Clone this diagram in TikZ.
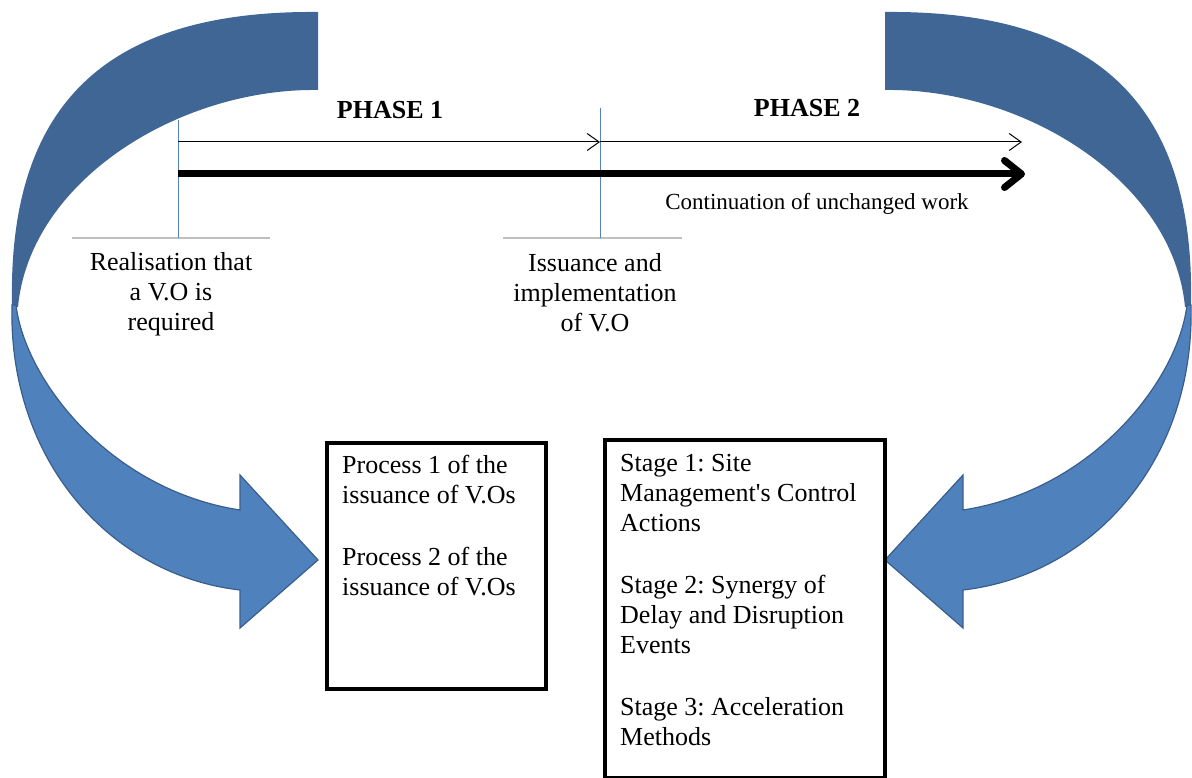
\documentclass[tikz,border=0pt]{standalone}
\usepackage{fontspec}
\setmainfont{Liberation Serif}
\usetikzlibrary{arrows.meta}
\frenchspacing

\definecolor{backblue}{RGB}{64,102,150}
\definecolor{frontblue}{RGB}{79,129,189}
\definecolor{edgeblue}{RGB}{58,94,140}
\definecolor{tickblue}{RGB}{84,130,190}
\definecolor{footgrey}{RGB}{191,191,191}

% curved ribbon arrow, drawn pointing right; mirrored for the other side
\newcommand{\bentarrow}{%
  \fill[backblue] (318,12) .. controls (100,10) and (8,110) .. (12,305)
    -- (18,307) .. controls (30,180) and (180,88) .. (318,90) -- cycle;
  \filldraw[fill=frontblue, draw=edgeblue, line width=1.2pt]
    (12,305) .. controls (8,460) and (110,575) .. (240,590)
    -- (240,628) -- (318,560) -- (240,475) -- (240,510)
    .. controls (110,490) and (25,380) .. (16,305) -- cycle;
}

\tikzset{
  txt/.style={font=\fontsize{26}{30}\selectfont, inner sep=0pt},
  phase/.style={font=\fontsize{26}{30}\selectfont\bfseries, inner sep=0pt},
  vobox/.style={draw, line width=3.5pt},
  vline/.style={draw=tickblue, line width=1pt},
  foot/.style={draw=footgrey, line width=1.6pt},
  thinarrow/.style={line width=1pt, -{Straight Barb[length=12pt,width=17pt]}},
  thickarrow/.style={line width=7pt, -{Straight Barb[length=17pt,width=27pt,round]}}
}

\begin{document}
\begin{tikzpicture}[x=1pt, y=-1pt]
  \useasboundingbox (0,0) rectangle (1192,778);

  % the two bent arrows
  \bentarrow
  \begin{scope}[shift={(1203,0)}, xscale=-1]
    \bentarrow
  \end{scope}

  % time line
  \coordinate (rtop) at (178,120);
  \coordinate (rbot) at (178,238);
  \coordinate (itop) at (600,108);
  \coordinate (ibot) at (600,238);
  \coordinate (t0) at (178,142);
  \coordinate (t1) at (600,142);
  \coordinate (t2) at (1022,142);
  \coordinate (w0) at (178,174);
  \coordinate (w1) at (1025,174);
  \coordinate (fa) at (72,238);
  \coordinate (fb) at (270,238);
  \coordinate (fc) at (503,238);
  \coordinate (fd) at (682,238);

  \draw[foot] (fa) -- (fb);
  \draw[foot] (fc) -- (fd);
  \draw[vline] (rtop) -- (rbot);
  \draw[vline] (itop) -- (ibot);
  \draw[thinarrow] (t0) -- (t1);
  \draw[thinarrow] (t1) -- (t2);
  \draw[thickarrow] (w0) -- (w1);

  \node[phase] (ph1) at (390,110.5) {PHASE 1};
  \node[phase] (ph2) at (807,108.5) {PHASE 2};
  \node[txt, font=\fontsize{23}{27}\selectfont] (cont) at (817,204) {Continuation of unchanged work};

  \node[txt, align=center, anchor=north] (real) at (171,252) {Realisation that\\a V.O is\\required};
  \node[txt, align=center, anchor=north] (issue) at (595,253) {Issuance and\\implementation\\of V.O};

  % boxes
  \node[vobox, minimum width=219pt, minimum height=246pt, anchor=north west] (box1) at (325,441) {};
  \node[vobox, minimum width=280pt, minimum height=338pt, anchor=north west] (box2) at (603,438) {};

  \node[txt, align=left, anchor=north west] (proc) at (342,455)
    {Process 1 of the\\issuance of V.Os\\[32pt]Process 2 of the\\issuance of V.Os};
  \node[txt, align=left, anchor=north west] (stage) at (620,454)
    {Stage 1: Site\\Management\textquotesingle s Control\\Actions\\[32pt]Stage 2: Synergy of\\Delay and Disruption\\Events\\[32pt]Stage 3: Acceleration\\Methods};
\end{tikzpicture}
\end{document}
